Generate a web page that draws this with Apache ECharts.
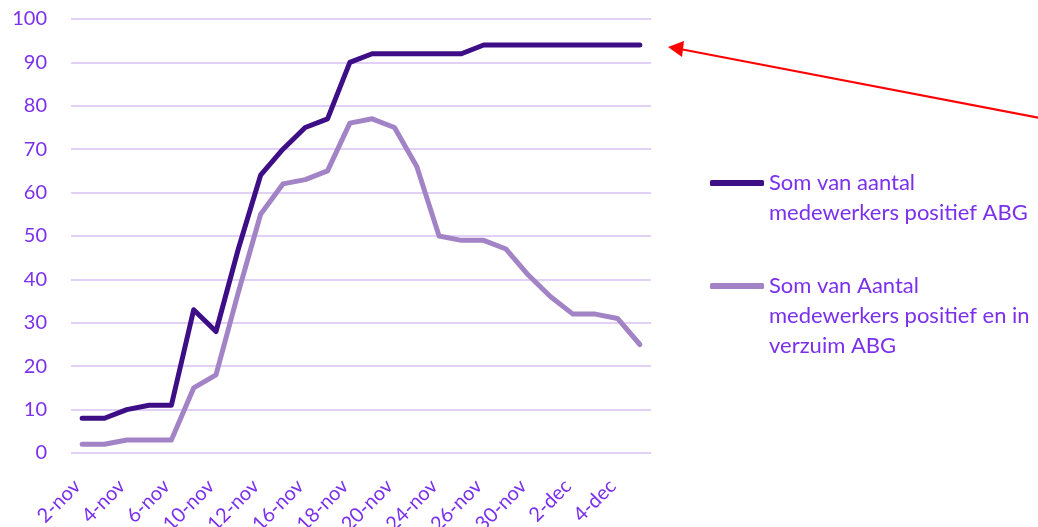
<!DOCTYPE html>
<html>
<head>
<meta charset="utf-8">
<script src="https://cdn.jsdelivr.net/npm/echarts@6/dist/echarts.min.js"></script>
<style>
html, body { margin: 0; padding: 0; background: #fff; }
#chart { width: 1038px; height: 527px; }
</style>
</head>
<body>
<div id="chart"></div>
<script>
var dagen = ['2-nov', '3-nov', '4-nov', '5-nov', '6-nov', '9-nov', '10-nov', '11-nov', '12-nov', '13-nov',
	'16-nov', '17-nov', '18-nov', '19-nov', '20-nov', '23-nov', '24-nov', '25-nov', '26-nov', '27-nov',
	'30-nov', '1-dec', '2-dec', '3-dec', '4-dec', '7-dec'];
var naamPositief = 'Som van aantal medewerkers positief ABG';
var naamVerzuim = 'Som van Aantal medewerkers positief en in verzuim ABG';
var positief = [8, 8, 10, 11, 11, 33, 28, 47, 64, 70, 75, 77, 90, 92, 92, 92, 92, 92, 94, 94, 94, 94, 94, 94, 94, 94];
var verzuim = [2, 2, 3, 3, 3, 15, 18, 37, 55, 62, 63, 65, 76, 77, 75, 66, 50, 49, 49, 47, 41, 36, 32, 32, 31, 25];

var paars = '#7B30EE';
var font = 'Lato';

var myChart = echarts.init(document.getElementById('chart'));
// legend tekst: lege regels erboven zodat het lijntje bij de eerste regel staat
var option = {
	animation: false,
	textStyle: { fontFamily: font },
	grid: {
		left: 71,
		right: 387,
		top: 19,
		bottom: 74,
		outerBoundsMode: 'none'
	},
	legend: [{
		left: 710,
		top: 138,
		padding: 0,
		icon: 'roundRect',
		itemWidth: 54,
		itemHeight: 6,
		data: [naamPositief],
		formatter: function() { return ' \nSom van aantal\nmedewerkers positief ABG'; },
		textStyle: { color: paars, fontSize: 22, fontFamily: font, lineHeight: 30 }
	}, {
		left: 710,
		top: 211,
		padding: 0,
		icon: 'roundRect',
		itemWidth: 54,
		itemHeight: 6,
		data: [naamVerzuim],
		formatter: function() { return ' \n \nSom van Aantal\nmedewerkers positief en in\nverzuim ABG'; },
		textStyle: { color: paars, fontSize: 22, fontFamily: font, lineHeight: 30 }
	}],
	xAxis: {
		type: 'category',
		data: dagen,
		axisLine: { show: false },
		axisTick: { show: false },
		axisLabel: {
			interval: 1,
			rotate: 45,
			margin: 25,
			padding: [0, 7, 0, 0],
			color: paars,
			fontSize: 20,
			fontFamily: font
		}
	},
	yAxis: {
		type: 'value',
		min: 0,
		max: 100,
		interval: 10,
		axisLine: { show: false },
		axisTick: { show: false },
		axisLabel: { color: paars, fontSize: 20, fontFamily: font, margin: 24 },
		splitLine: { lineStyle: { color: '#E2D0F7', width: 2 } }
	},
	series: [{
		name: naamPositief,
		type: 'line',
		data: positief,
		showSymbol: false,
		itemStyle: { color: '#3E0E87' },
		lineStyle: { color: '#3E0E87', width: 5, cap: 'round', join: 'round' }
	}, {
		name: naamVerzuim,
		type: 'line',
		data: verzuim,
		showSymbol: false,
		itemStyle: { color: '#A283C6' },
		lineStyle: { color: '#A283C6', width: 5, cap: 'round', join: 'round' }
	}],
	graphic: [{
		type: 'line',
		shape: { x1: 1040, y1: 118, x2: 680, y2: 49 },
		style: { stroke: '#FF0000', lineWidth: 2 }
	}, {
		type: 'polygon',
		shape: { points: [[668, 47], [684, 41], [682, 57]] },
		style: { fill: '#FF0000' }
	}]
};
myChart.setOption(option);
</script>
</body>
</html>
